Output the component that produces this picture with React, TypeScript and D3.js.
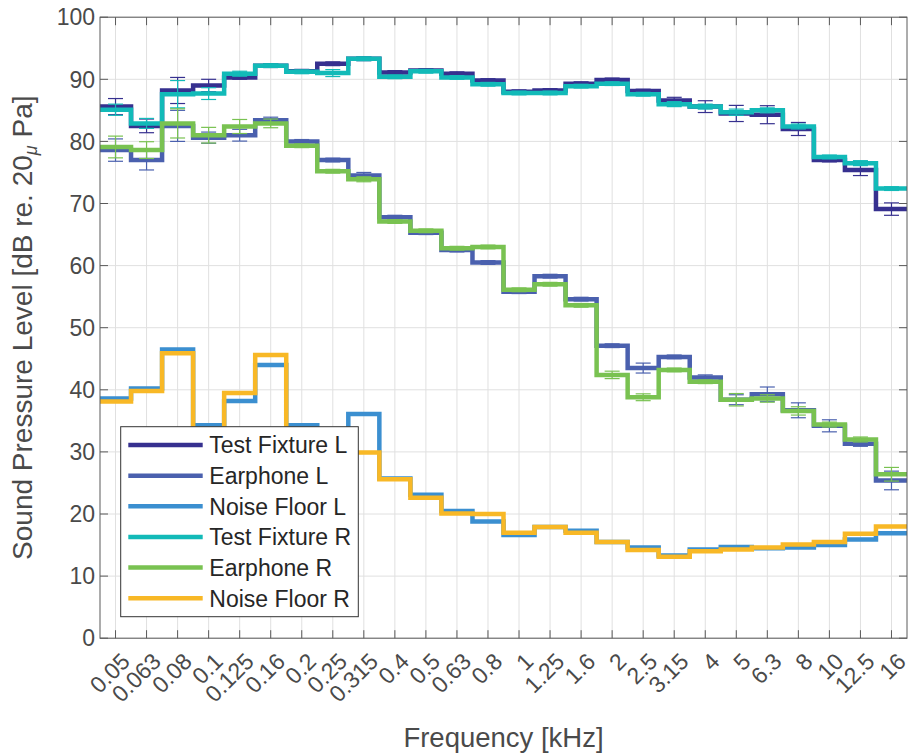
import React from "react";
import * as d3 from "d3";

const bands = ["0.05","0.063","0.08","0.1","0.125","0.16","0.2","0.25","0.315","0.4","0.5","0.63","0.8","1","1.25","1.6","2","2.5","3.15","4","5","6.3","8","10","12.5","16"];

const testFixtureL = [85.6,82.5,88.2,89.0,90.3,92.2,91.3,92.5,93.3,91.1,91.4,90.9,89.8,88.0,88.2,89.3,89.9,88.1,86.6,85.6,84.5,84.3,82.0,77.0,75.4,69.1];
const testFixtureLErr = [1.3,1.1,2.1,1.0,0.3,0.3,0.3,0.3,0.3,0.3,0.3,0.3,0.3,0.3,0.3,0.3,0.3,0.3,0.5,0.95,1.3,1.45,1.05,0.3,0.9,1.0];

const earphoneL = [78.6,77.0,82.5,80.6,81.0,83.4,80.0,77.0,74.5,67.8,65.3,62.5,60.5,55.8,58.3,54.6,47.1,43.5,45.3,42.0,38.4,39.3,36.7,34.2,31.3,25.4];
const earphoneLErr = [1.8,1.6,2.5,0.9,0.95,0.5,0.3,0.3,0.5,0.3,0.3,0.3,0.3,0.3,0.3,0.3,0.3,0.8,0.3,0.4,0.8,1.15,1.2,0.97,0.4,1.5];

const noiseFloorL = [38.6,40.2,46.5,34.3,38.2,44.0,34.3,32.0,36.1,25.7,23.1,20.5,18.8,16.6,17.9,17.3,15.5,14.6,13.3,14.3,14.7,14.5,14.6,15.0,15.9,16.9];

const testFixtureR = [85.1,82.9,87.6,87.7,90.9,92.2,91.2,91.0,93.3,90.4,91.3,90.3,89.2,87.8,87.8,88.9,89.3,87.6,86.0,85.6,84.7,85.0,82.4,77.5,76.5,72.4];
const testFixtureRErr = [0.9,0.8,2.2,0.95,0.4,0.3,0.3,0.56,0.3,0.3,0.3,0.3,0.3,0.3,0.3,0.3,0.3,0.3,0.4,0.4,0.5,0.4,0.4,0.3,0.4,0.3];

const earphoneR = [79.1,78.6,82.9,81.0,82.4,82.9,79.3,75.2,73.9,67.1,65.6,62.8,63.0,56.1,57.0,53.6,42.4,38.8,43.2,41.3,38.4,38.6,36.6,34.4,32.0,26.4];
const earphoneRErr = [1.75,1.35,2.35,1.26,1.13,0.7,0.3,0.3,0.4,0.3,0.3,0.3,0.3,0.3,0.3,0.3,0.6,0.55,0.3,0.3,1.0,0.6,0.67,0.4,0.4,1.1];

const noiseFloorR = [38.1,39.8,45.9,31.0,39.5,45.6,31.5,30.5,29.9,25.6,22.6,20.1,20.0,17.0,17.9,17.0,15.5,14.2,13.1,14.0,14.3,14.6,15.1,15.5,16.8,18.0];

const yTicks = [0,10,20,30,40,50,60,70,80,90,100];

const seriesNames = ["Test Fixture L","Earphone L","Noise Floor L","Test Fixture R","Earphone R","Noise Floor R"];
const seriesColors = ["#36308f","#4a60ae","#3b8fd0","#12bab8","#79c251","#f8b826"];

export default function App() {
  const W = 909, H = 753;
  const left = 100, right = 907, top = 17.2, bottom = 638.2;
  const x = d3.scaleLinear().domain([0.5, bands.length + 0.5]).range([left, right]);
  const y = d3.scaleLinear().domain([0, 100]).range([bottom, top]);

  const series = [
    { name: seriesNames[0], color: seriesColors[0], values: testFixtureL, err: testFixtureLErr },
    { name: seriesNames[1], color: seriesColors[1], values: earphoneL, err: earphoneLErr },
    { name: seriesNames[2], color: seriesColors[2], values: noiseFloorL, err: null },
    { name: seriesNames[3], color: seriesColors[3], values: testFixtureR, err: testFixtureRErr },
    { name: seriesNames[4], color: seriesColors[4], values: earphoneR, err: earphoneRErr },
    { name: seriesNames[5], color: seriesColors[5], values: noiseFloorR, err: null },
  ];

  const line = d3.line<[number, number]>().x(d => x(d[0])).y(d => y(d[1])).curve(d3.curveStepAfter);
  const stepPts = (vals: number[]): [number, number][] => {
    const pts: [number, number][] = vals.map((v, i) => [i + 0.5, v]);
    pts.push([vals.length + 0.5, vals[vals.length - 1]]);
    return pts;
  };

  const axisColor = "#5a5a5a";
  const textColor = "#4a4a4a";
  const font = "'Liberation Sans', Arial, Helvetica, sans-serif";
  const tickLen = 8;
  const capHalf = 7.5;

  const legX = 120.7, legY = 426.7, legW = 237.6, legH = 190;
  const rowY0 = 445, rowDy = 30.65;

  return (
    <svg width={W} height={H} style={{ position: "absolute", left: 0, top: 0, background: "#fff" }} fontFamily={font}>
      <rect x={0} y={0} width={W} height={H} fill="#fff" />
      {/* grid */}
      <g stroke="#e0e0e0" strokeWidth={1}>
        {bands.map((b, i) => (
          <line key={"gx" + i} x1={x(i + 1)} x2={x(i + 1)} y1={top} y2={bottom} />
        ))}
        {yTicks.map(t => (
          <line key={"gy" + t} x1={left} x2={right} y1={y(t)} y2={y(t)} />
        ))}
      </g>
      {/* data */}
      {series.map((s, si) => (
        <g key={"s" + si}>
          <path d={line(stepPts(s.values)) || ""} fill="none" stroke={s.color} strokeWidth={4.5} strokeLinejoin="miter" />
          {s.err && s.values.map((v, i) => {
            const cx = x(i + 1);
            const e = s.err![i];
            return (
              <g key={"e" + i} stroke={s.color} strokeWidth={1.2}>
                <line x1={cx} x2={cx} y1={y(v - e)} y2={y(v + e)} />
                <line x1={cx - capHalf} x2={cx + capHalf} y1={y(v - e)} y2={y(v - e)} />
                <line x1={cx - capHalf} x2={cx + capHalf} y1={y(v + e)} y2={y(v + e)} />
              </g>
            );
          })}
        </g>
      ))}
      {/* axes box and ticks */}
      <g stroke={axisColor} strokeWidth={1} fill="none">
        <rect x={left} y={top} width={right - left} height={bottom - top} />
        {bands.map((b, i) => (
          <g key={"tx" + i}>
            <line x1={x(i + 1)} x2={x(i + 1)} y1={bottom} y2={bottom - tickLen} />
            <line x1={x(i + 1)} x2={x(i + 1)} y1={top} y2={top + tickLen} />
          </g>
        ))}
        {yTicks.map(t => (
          <g key={"ty" + t}>
            <line x1={left} x2={left + tickLen} y1={y(t)} y2={y(t)} />
            <line x1={right} x2={right - tickLen} y1={y(t)} y2={y(t)} />
          </g>
        ))}
      </g>
      {/* tick labels */}
      <g fill={textColor} fontSize={23}>
        {yTicks.map(t => (
          <text key={"yl" + t} x={95} y={y(t)} dy="0.36em" textAnchor="end">{t}</text>
        ))}
        {bands.map((b, i) => (
          <text key={"xl" + i} transform={`translate(${x(i + 1) + 4},${bottom + 13}) rotate(-45)`} textAnchor="end" dy="0.72em">{b}</text>
        ))}
      </g>
      {/* axis labels */}
      <text x={(left + right) / 2} y={747} textAnchor="middle" fill={textColor} fontSize={27.5}>Frequency [kHz]</text>
      <text transform={`translate(32,${(top + bottom) / 2}) rotate(-90)`} textAnchor="middle" fill={textColor} fontSize={28}>
        Sound Pressure Level [dB re. 20<tspan fontStyle="italic" fontSize={18} dy={5}>μ</tspan><tspan dy={-5}> Pa]</tspan>
      </text>
      {/* legend */}
      <g>
        <rect x={legX} y={legY} width={legW} height={legH} fill="#fff" stroke="#333" strokeWidth={1} />
        {series.map((s, si) => (
          <g key={"lg" + si}>
            <line x1={128.3} x2={202.7} y1={rowY0 + si * rowDy} y2={rowY0 + si * rowDy} stroke={s.color} strokeWidth={4.5} />
            <text x={209.3} y={rowY0 + si * rowDy} dy="0.36em" fontSize={23} fill="#262626">{s.name}</text>
          </g>
        ))}
      </g>
    </svg>
  );
}
